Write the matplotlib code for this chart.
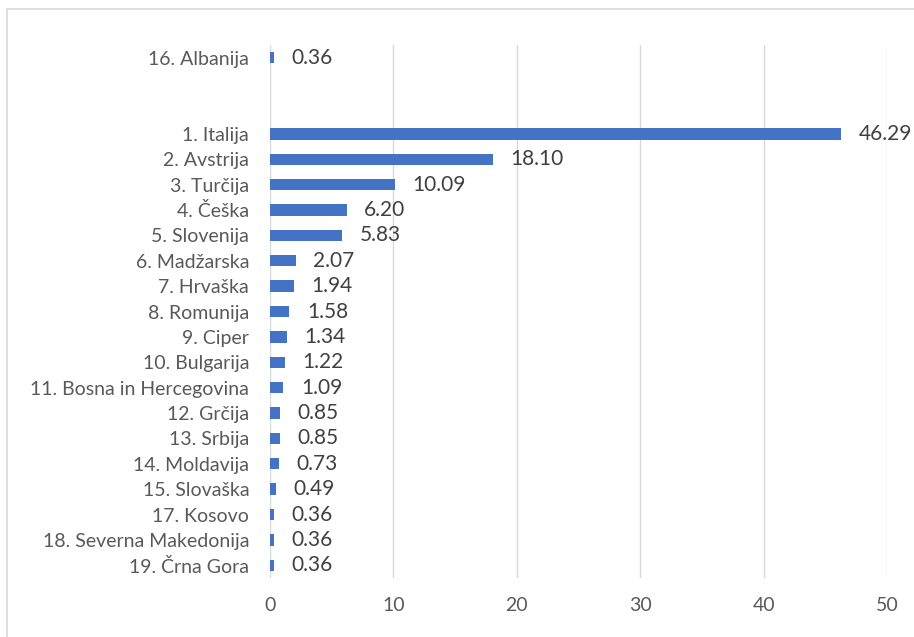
import matplotlib.pyplot as plt
from matplotlib.patches import Rectangle

# Data (top to bottom); empty strings are blank slots
countries = ['16. Albanija', '', '', '1. Italija', '2. Avstrija', '3. Turčija', '4. Češka',
             '5. Slovenija', '6. Madžarska', '7. Hrvaška', '8. Romunija', '9. Ciper',
             '10. Bulgarija', '11. Bosna in Hercegovina', '12. Grčija', '13. Srbija',
             '14. Moldavija', '15. Slovaška', '17. Kosovo', '18. Severna Makedonija',
             '19. Črna Gora']
values = [0.36, None, None, 46.29, 18.10, 10.09, 6.20, 5.83, 2.07, 1.94, 1.58, 1.34,
          1.22, 1.09, 0.85, 0.85, 0.73, 0.49, 0.36, 0.36, 0.36]

plt.rcParams['font.family'] = ['Lato', 'DejaVu Sans']

fig = plt.figure(figsize=(9.14, 6.37), dpi=100)
ax = fig.add_axes([270 / 914, 1 - 578 / 637, (887 - 270) / 914, (578 - 45) / 637])

# figure border (only top and left visible in the reference)
fig.patches.append(Rectangle((7 / 914, -0.05), 1.0, 1.05 - 9 / 637, transform=fig.transFigure,
                             fill=False, edgecolor='#D9D9D9', linewidth=1.2))

ypos = list(range(len(countries)))
for y, v in zip(ypos, values):
    if v is None:
        continue
    ax.barh(y, v, height=0.45, color='#4472C4', zorder=3)
    ax.annotate(f'{v:.2f}', xy=(v, y), xytext=(12.5, 0), textcoords='offset points',
                va='center', ha='left', fontsize=15, color='#404040')

ax.set_ylim(len(countries) - 0.5, -0.5)
ax.set_xlim(0, 50)
ax.set_yticks(ypos)
ax.set_yticklabels(countries, fontsize=14, color='#595959')
ax.set_xticks(range(0, 51, 10))
ax.tick_params(axis='x', labelsize=14, labelcolor='#595959', length=0, pad=14)
ax.tick_params(axis='y', length=0, pad=15)

ax.grid(axis='x', color='#D9D9D9', linewidth=1, zorder=0)
for s in ax.spines.values():
    s.set_visible(False)

fig.savefig('out.png', dpi=100)
